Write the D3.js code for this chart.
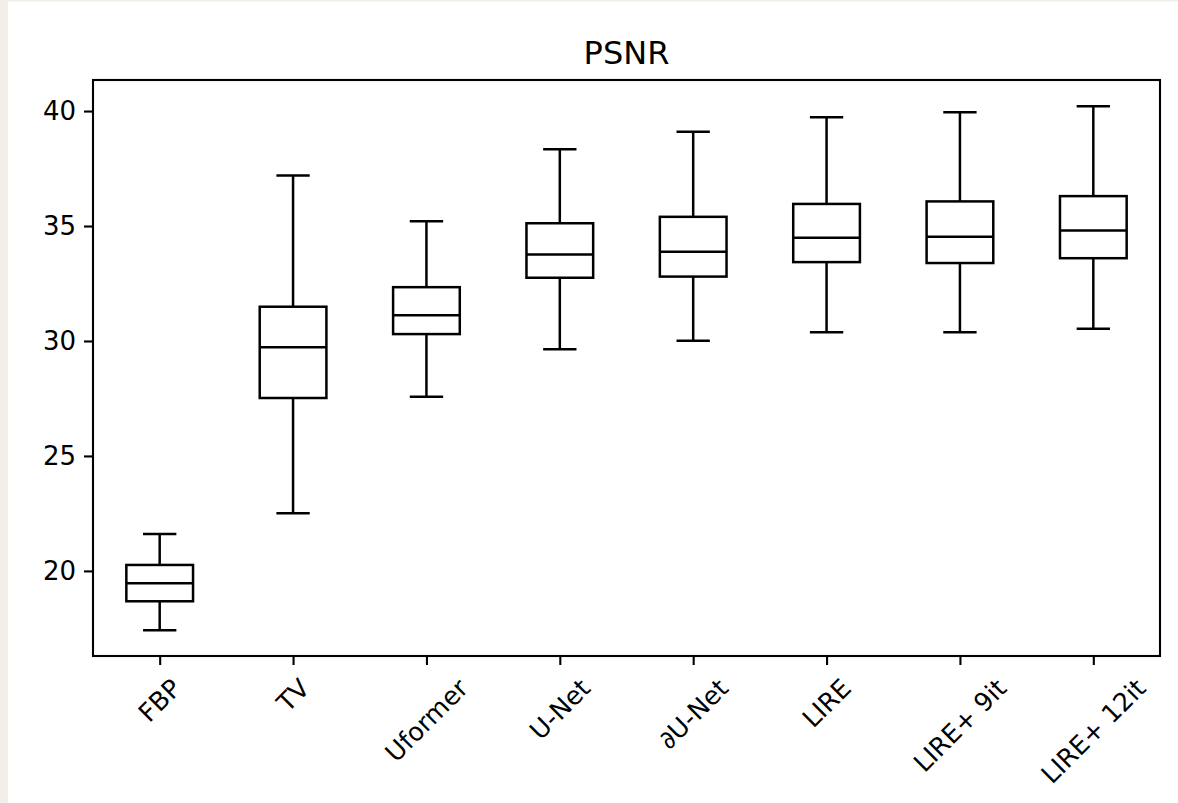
<!DOCTYPE html>
<html>
<head>
<meta charset="utf-8">
<script src="https://cdn.jsdelivr.net/npm/d3@7"></script>
<style>
  body { margin: 0; background: #fff; }
  svg { display: block; font-family: "DejaVu Sans", sans-serif; }
</style>
</head>
<body>
<div id="chart"></div>
<script>
// methods along the x axis
const methods = ['FBP', 'TV', 'Uformer', 'U-Net', '\u2202U-Net', 'LIRE', 'LIRE+ 9it', 'LIRE+ 12it'];
// box statistics per method (PSNR)
const whiskerLow = [17.42, 22.51, 27.58, 29.64, 30.01, 30.38, 30.38, 30.53];
const q1 = [18.68, 27.52, 30.30, 32.75, 32.80, 33.43, 33.39, 33.60];
const median = [19.46, 29.73, 31.12, 33.76, 33.88, 34.49, 34.53, 34.81];
const q3 = [20.26, 31.49, 32.34, 35.12, 35.40, 35.96, 36.07, 36.30];
const whiskerHigh = [21.61, 37.20, 35.21, 38.34, 39.10, 39.73, 39.95, 40.21];
const yTicks = [20, 25, 30, 35, 40];

const W = 1178, H = 803;
const margin = { left: 93, right: 18, top: 80, bottom: 147 };
const boxWidth = 0.5, capWidth = 0.25;

const svg = d3.select('#chart').append('svg')
    .attr('width', W)
    .attr('height', H);

// page edge from the screenshot
svg.append('rect').attr('x', 0).attr('y', 0).attr('width', W).attr('height', 1.5).attr('fill', '#f2efe8');
svg.append('rect').attr('x', 0).attr('y', 0).attr('width', 8).attr('height', H).attr('fill', '#f2efe8');

const x = d3.scaleLinear()
    .domain([0.5, methods.length + 0.5])
    .range([margin.left, W - margin.right]);
const y = d3.scaleLinear()
    .domain([16.3, 41.35])
    .range([H - margin.bottom, margin.top]);

const data = methods.map((m, i) => ({
    name: m, pos: i + 1,
    lo: whiskerLow[i], q1: q1[i], med: median[i], q3: q3[i], hi: whiskerHigh[i]
}));

const lw = 2.5;
const body = svg.append('g').attr('class', 'boxes')
    .attr('stroke', '#000').attr('stroke-width', lw).attr('fill', 'none');

const g = body.selectAll('g.box').data(data).enter().append('g').attr('class', 'box');

// whiskers
g.append('line')
    .attr('x1', d => x(d.pos)).attr('x2', d => x(d.pos))
    .attr('y1', d => y(d.q3)).attr('y2', d => y(d.hi));
g.append('line')
    .attr('x1', d => x(d.pos)).attr('x2', d => x(d.pos))
    .attr('y1', d => y(d.q1)).attr('y2', d => y(d.lo));
// caps
g.append('line')
    .attr('x1', d => x(d.pos - capWidth / 2)).attr('x2', d => x(d.pos + capWidth / 2))
    .attr('y1', d => y(d.hi)).attr('y2', d => y(d.hi));
g.append('line')
    .attr('x1', d => x(d.pos - capWidth / 2)).attr('x2', d => x(d.pos + capWidth / 2))
    .attr('y1', d => y(d.lo)).attr('y2', d => y(d.lo));
// box
g.append('rect')
    .attr('x', d => x(d.pos - boxWidth / 2))
    .attr('width', d => x(d.pos + boxWidth / 2) - x(d.pos - boxWidth / 2))
    .attr('y', d => y(d.q3))
    .attr('height', d => y(d.q1) - y(d.q3));
// median
g.append('line')
    .attr('x1', d => x(d.pos - boxWidth / 2)).attr('x2', d => x(d.pos + boxWidth / 2))
    .attr('y1', d => y(d.med)).attr('y2', d => y(d.med));

// axes
const axisLw = 2.1;
const yAxis = svg.append('g')
    .attr('transform', 'translate(' + margin.left + ',0)')
    .call(d3.axisLeft(y).tickValues(yTicks).tickSize(9).tickPadding(8).tickFormat(d3.format('d')));
yAxis.select('.domain').remove();
yAxis.selectAll('line').attr('stroke-width', axisLw);
yAxis.selectAll('text').attr('font-size', 26).attr('fill', '#000')
    .attr('font-family', '"DejaVu Sans", sans-serif');

const xAxis = svg.append('g')
    .attr('transform', 'translate(0,' + (H - margin.bottom) + ')')
    .call(d3.axisBottom(x).tickValues(data.map(d => d.pos)).tickSize(9).tickFormat(''));
xAxis.select('.domain').remove();
xAxis.selectAll('line').attr('stroke-width', axisLw);

// rotated category labels, bounding box centred under the tick
const labelTop = H - margin.bottom + 17;
const fs = 25.5;
const labels = svg.append('g').attr('class', 'xlabels');
data.forEach(d => {
    const t = labels.append('text')
        .attr('font-size', fs)
        .attr('text-anchor', 'middle')
        .attr('dominant-baseline', 'central')
        .text(d.name);
    const w = t.node().getComputedTextLength();
    const h = fs * 1.16;
    const half = (w + h) / (2 * Math.SQRT2);
    const cx = x(d.pos), cy = labelTop + half;
    t.attr('transform', 'translate(' + cx + ',' + cy + ') rotate(-45)');
});

// frame
svg.append('rect')
    .attr('x', margin.left).attr('y', margin.top)
    .attr('width', W - margin.left - margin.right)
    .attr('height', H - margin.top - margin.bottom)
    .attr('fill', 'none').attr('stroke', '#000').attr('stroke-width', axisLw);

// title
svg.append('text')
    .attr('x', (margin.left + W - margin.right) / 2)
    .attr('y', 64)
    .attr('text-anchor', 'middle')
    .attr('font-size', 32)
    .text('PSNR');
</script>
</body>
</html>
